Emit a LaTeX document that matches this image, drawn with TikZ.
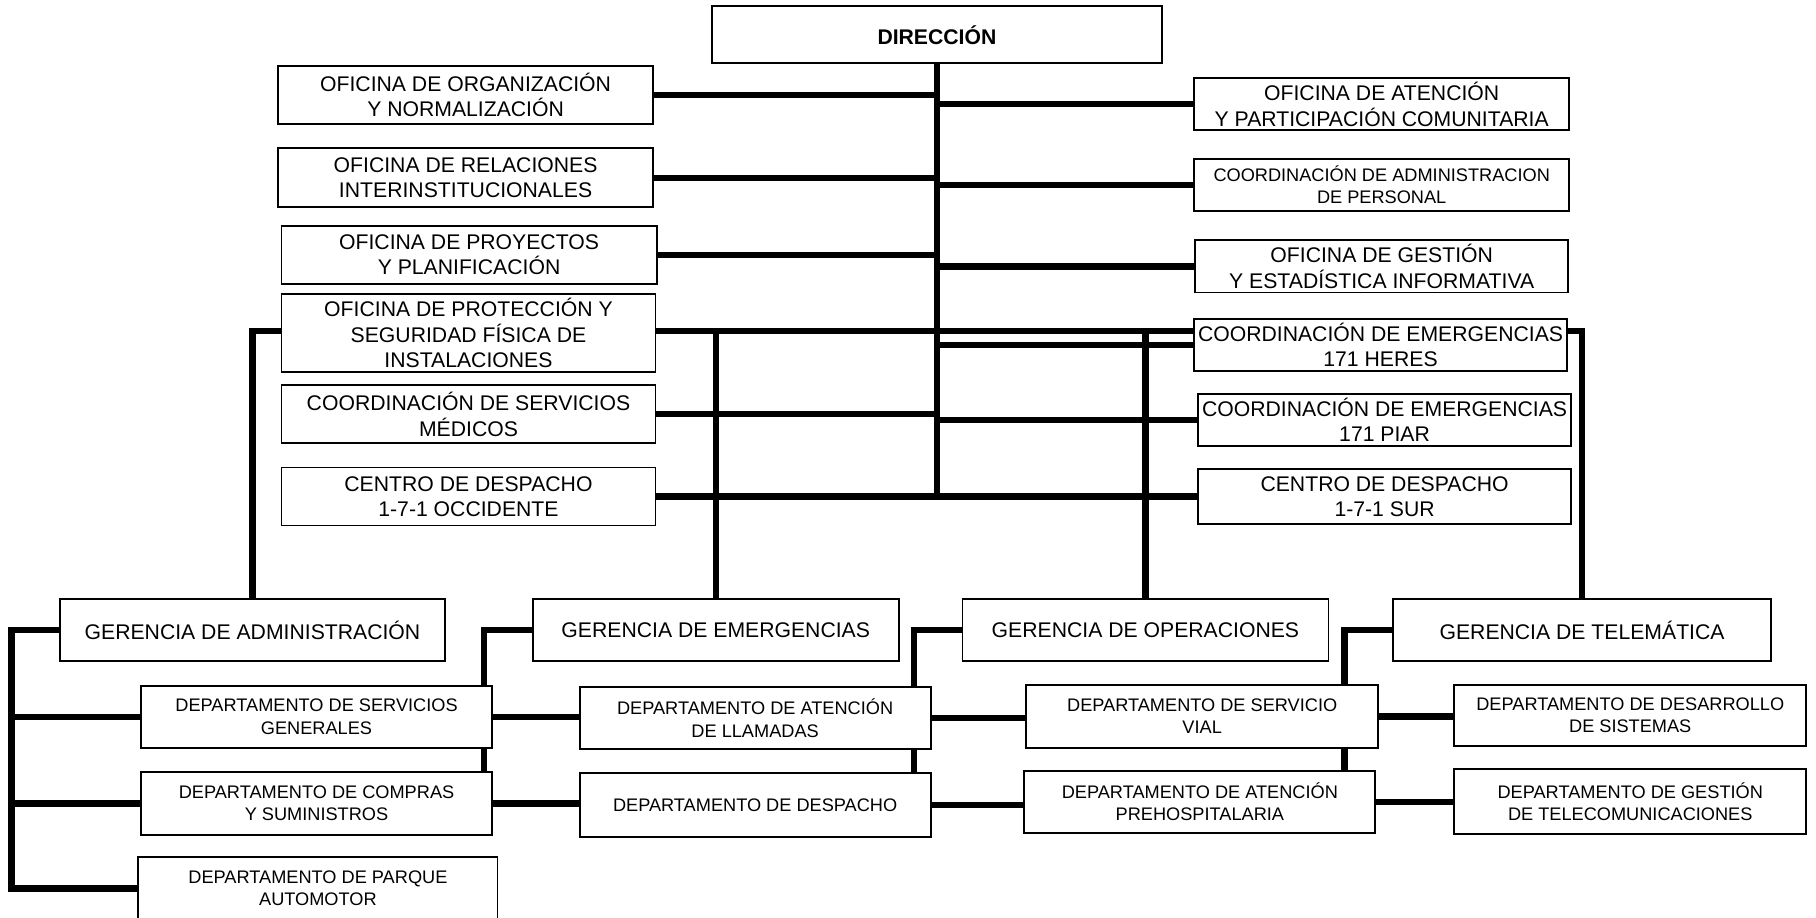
\documentclass[tikz,border=0pt]{standalone}
\usepackage{fontspec}
\setmainfont{Liberation Sans}
\pgfdeclarelayer{bg}
\pgfsetlayers{bg,main}
\begin{document}
\begin{tikzpicture}[x=1pt,y=-1pt,
  box/.style={draw=black, line width=1.6pt, fill=white, inner sep=0pt, align=center, font=\fontsize{18.3}{22}\selectfont},
  dbox/.style={box, font=\fontsize{15.7}{19.3}\selectfont},
  conn/.style={draw=black, line width=5.5pt, line join=miter}]
\useasboundingbox (0,0) rectangle (1568,792);
\clip (0,0) rectangle (1568,792);
% top
\node[box, minimum width=388pt, minimum height=49pt, font=\fontsize{18.3}{22}\selectfont\bfseries] (dir) at (809,30) {DIRECCIÓN};
% left column
\node[box, minimum width=324pt, minimum height=50pt] (o1) at (402,82) {OFICINA DE ORGANIZACIÓN\\Y NORMALIZACIÓN};
\node[box, minimum width=324pt, minimum height=51pt] (o2) at (402,153.5) {OFICINA DE RELACIONES\\INTERINSTITUCIONALES};
\node[box, minimum width=324pt, minimum height=50pt] (o3) at (405,220) {OFICINA DE PROYECTOS\\Y PLANIFICACIÓN};
\node[box, minimum width=323pt, minimum height=67pt] (o4) at (404.5,287.5) {OFICINA DE PROTECCIÓN Y\\SEGURIDAD FÍSICA DE\\INSTALACIONES};
\node[box, minimum width=323pt, minimum height=50pt] (o5) at (404.5,357.7) {COORDINACIÓN DE SERVICIOS\\MÉDICOS};
\node[box, minimum width=323pt, minimum height=50pt] (o6) at (404.5,428.7) {CENTRO DE DESPACHO\\1-7-1 OCCIDENTE};
% right column
\node[box, minimum width=324pt, minimum height=45pt] (r1) at (1193,90) {OFICINA DE ATENCIÓN\\Y PARTICIPACIÓN COMUNITARIA};
\node[dbox, minimum width=324pt, minimum height=45pt] (r2) at (1193,159.5) {COORDINACIÓN DE ADMINISTRACION\\DE PERSONAL};
\node[box, minimum width=322pt, minimum height=45pt] (r3) at (1193,230) {OFICINA DE GESTIÓN\\Y ESTADÍSTICA INFORMATIVA};
\node[box, minimum width=322pt, minimum height=45pt] (r4) at (1192,298) {COORDINACIÓN DE EMERGENCIAS\\171 HERES};
\node[box, minimum width=322pt, minimum height=45pt] (r5) at (1195.5,362.5) {COORDINACIÓN DE EMERGENCIAS\\171 PIAR};
\node[box, minimum width=322pt, minimum height=47pt] (r6) at (1195.5,428.7) {CENTRO DE DESPACHO\\1-7-1 SUR};
% gerencias
\node[box, minimum width=332pt, minimum height=54pt] (g1) at (218,544) {GERENCIA DE ADMINISTRACIÓN};
\node[box, minimum width=316pt, minimum height=54pt] (g2) at (618,544) {GERENCIA DE EMERGENCIAS};
\node[box, minimum width=316pt, minimum height=54pt] (g3) at (989,544) {GERENCIA DE OPERACIONES};
\node[box, minimum width=326pt, minimum height=54pt] (g4) at (1366,544) {GERENCIA DE TELEMÁTICA};
% departamentos
\node[dbox, minimum width=303pt, minimum height=54pt] (a1) at (273.3,619) {DEPARTAMENTO DE SERVICIOS\\GENERALES};
\node[dbox, minimum width=303pt, minimum height=54.5pt] (a2) at (273.3,693.7) {DEPARTAMENTO DE COMPRAS\\Y SUMINISTROS};
\node[dbox, minimum width=310pt, minimum height=54pt] (a3) at (274.5,767) {DEPARTAMENTO DE PARQUE\\AUTOMOTOR};
\node[dbox, minimum width=303pt, minimum height=54pt] (e1) at (652,620) {DEPARTAMENTO DE ATENCIÓN\\DE LLAMADAS};
\node[dbox, minimum width=303pt, minimum height=55pt] (e2) at (652,695) {DEPARTAMENTO DE DESPACHO};
\node[dbox, minimum width=304pt, minimum height=54pt] (p1) at (1038,618.6) {DEPARTAMENTO DE SERVICIO\\VIAL};
\node[dbox, minimum width=303pt, minimum height=53pt] (p2) at (1036,692.4) {DEPARTAMENTO DE ATENCIÓN\\PREHOSPITALARIA};
\node[dbox, minimum width=304pt, minimum height=52pt] (t1) at (1407.6,617.8) {DEPARTAMENTO DE DESARROLLO\\DE SISTEMAS};
\node[dbox, minimum width=304pt, minimum height=56pt] (t2) at (1407.6,692) {DEPARTAMENTO DE GESTIÓN\\DE TELECOMUNICACIONES};
% helper coordinates
\coordinate (trunkend) at (809,432);
\coordinate (bus) at (0,286);
\coordinate (admx) at (10,0);
\coordinate (emx) at (418,0);
\coordinate (opx) at (789.4,0);
\coordinate (tlx) at (1161,0);
\begin{pgfonlayer}{bg}
\draw[conn] (dir.south) -- (trunkend);
\foreach \n in {o1,o2,o3,o5,o6} {\draw[conn] (\n.east) -- (\n.east -| dir.south);}
\foreach \n in {r1,r2,r3,r4,r5,r6} {\draw[conn] (\n.west -| dir.south) -- (\n.west);}
\draw[conn] (g1.north) -- (g1.north |- bus) -- (g4.north |- bus) -- (g4.north);
\draw[conn] (g2.north |- bus) -- (g2.north);
\draw[conn] (g3.north |- bus) -- (g3.north);
% administracion
\draw[conn] (g1.west) -- (g1.west -| admx) |- (a3.west);
\draw[conn] (a1.west -| admx) -- (a1.west);
\draw[conn] (a2.west -| admx) -- (a2.west);
% emergencias
\draw[conn] (g2.west) -| (a2.north -| emx);
\draw[conn] (a1.east) -- (a1.east -| e1.west);
\draw[conn] (a2.east) -- (a2.east -| e2.west);
% operaciones
\draw[conn] (g3.west) -| (e2.north -| opx);
\draw[conn] (e1.east) -- (e1.east -| p1.west);
\draw[conn] (e2.east) -- (e2.east -| p2.west);
% telematica
\draw[conn] (g4.west) -| (p2.north -| tlx);
\draw[conn] (p1.east) -- (p1.east -| t1.west);
\draw[conn] (p2.east) -- (p2.east -| t2.west);
\end{pgfonlayer}
\end{tikzpicture}
\end{document}
